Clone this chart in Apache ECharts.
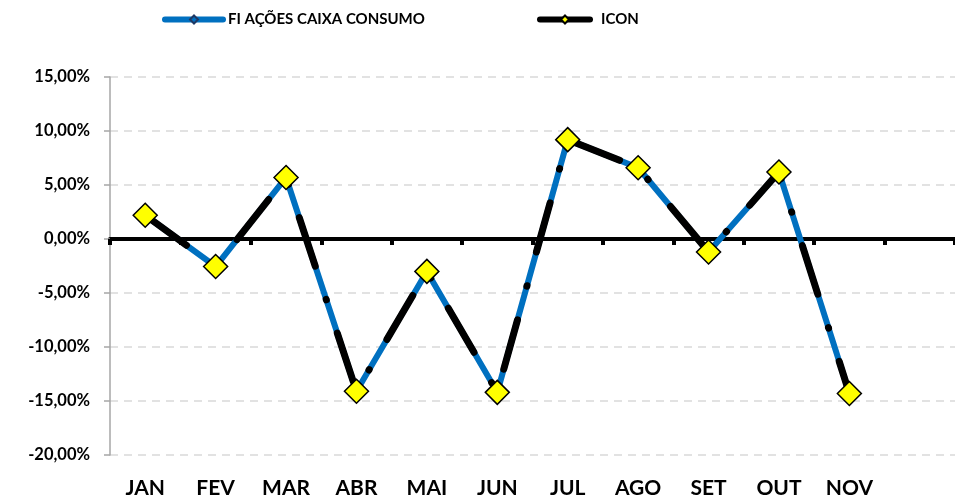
<!DOCTYPE html>
<html><head><meta charset="utf-8">
<script src="https://cdn.jsdelivr.net/npm/echarts@6/dist/echarts.min.js"></script>
<style>html,body{margin:0;padding:0;background:#fff}#c{width:955px;height:500px}</style>
</head><body><div id="c"></div>
<script>
const categories = ['JAN','FEV','MAR','ABR','MAI','JUN','JUL','AGO','SET','OUT','NOV',''];
const fundName = 'FI AÇÕES CAIXA CONSUMO';
const fundValues = [2.2, -2.55, 5.7, -14.1, -3.0, -14.2, 9.2, 6.6, -1.2, 6.2, -14.3, null];
const iconName = 'ICON';
const iconValues = [2.2, -2.55, 5.7, -14.1, -3.0, -14.2, 9.2, 6.6, -1.2, 6.2, -14.3, null];
const yMin = -20, yMax = 15, yStep = 5;

const FONT = 'Lato';
const chart = echarts.init(document.getElementById('c'), null, {renderer:'canvas'});
chart.setOption({
  animation:false,
  legend:[
    {left:162, top:12, padding:0, data:[fundName], itemWidth:58, itemHeight:10,
     lineStyle:{width:6, cap:'round', type:'solid'},
     textStyle:{fontFamily:FONT, fontWeight:'bold', fontSize:15, color:'#000'}},
    {left:537, top:12, padding:0, data:[iconName], itemWidth:50, itemHeight:10,
     lineStyle:{width:6, cap:'round', type:'solid'},
     textStyle:{fontFamily:FONT, fontWeight:'bold', fontSize:15, color:'#000', padding:[0,0,0,6]}}
  ],
  grid:{left:110, right:0, top:77, bottom:45, containLabel:false},
  xAxis:[
    {type:'category', data:categories, boundaryGap:true,
     axisLine:{show:false, onZero:false}, axisTick:{show:false},
     axisLabel:{margin:23, fontFamily:FONT, fontWeight:'bold', fontSize:21, color:'#000', interval:0},
     position:'bottom'},
    {type:'category', data:categories, boundaryGap:true, position:'bottom',
     axisLine:{show:true, onZero:true, lineStyle:{color:'#000', width:4}},
     axisTick:{show:true, alignWithLabel:false, length:6, inside:false, lineStyle:{color:'#000', width:4}},
     axisLabel:{show:false}}
  ],
  yAxis:{type:'value', min:yMin, max:yMax, interval:yStep,
    axisLine:{show:true, onZero:false, lineStyle:{color:'#A6A6A6', width:1.5}},
    axisTick:{show:true, length:6, lineStyle:{color:'#A6A6A6', width:1.5}},
    splitLine:{show:true, lineStyle:{color:'#D9D9D9', width:1.5, type:[8,6]}},
    axisLabel:{margin:20, fontFamily:FONT, fontWeight:'bold', fontSize:16.5, color:'#000',
      formatter:v => v.toFixed(2).replace('.',',') + '%'}
  },
  series:[
    {name:fundName, type:'line', xAxisIndex:0, data:fundValues, z:2,
     symbol:'diamond', symbolSize:10, showAllSymbol:true,
     lineStyle:{color:'#0070C0', width:6},
     itemStyle:{color:'#0070C0', borderColor:'#1F3864', borderWidth:1.5}},
    {name:iconName, type:'line', xAxisIndex:0, data:iconValues, z:3,
     symbol:'diamond', symbolSize:24, showAllSymbol:true,
     lineStyle:{color:'#000', width:7, type:[51,35,0.5,35], cap:'round'},
     itemStyle:{color:'#FFFF00', borderColor:'#000', borderWidth:1.5}}
  ]
});
</script></body></html>
